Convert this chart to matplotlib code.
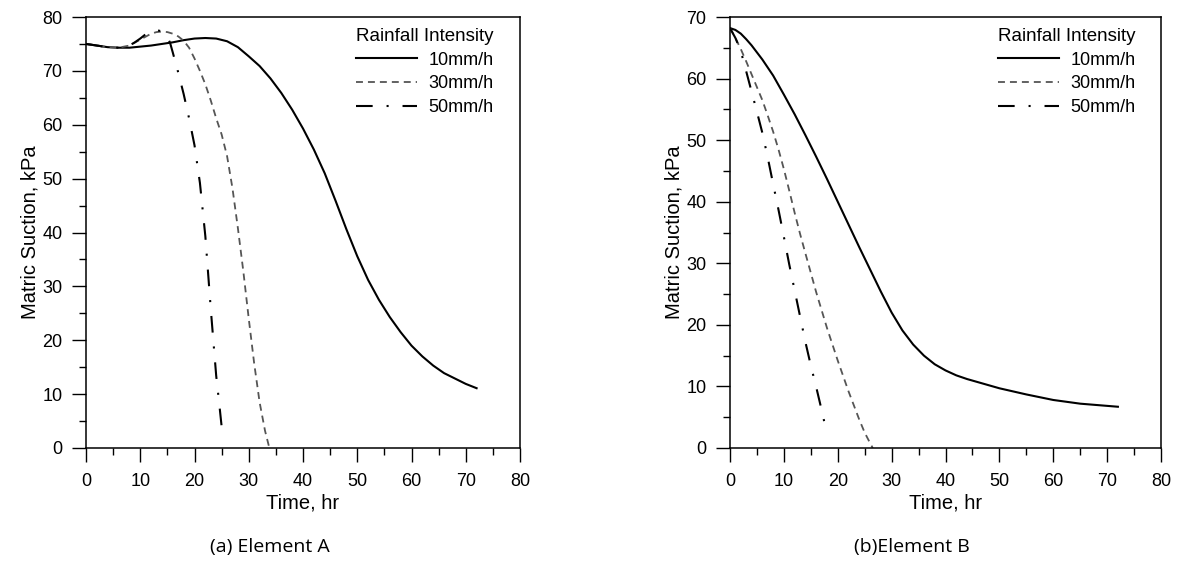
import numpy as np
import matplotlib
matplotlib.use("Agg")
from matplotlib import pyplot as plt
from matplotlib.ticker import MultipleLocator

plt.rcParams['font.family'] = ['Liberation Sans', 'DejaVu Sans']
plt.rcParams['lines.scale_dashes'] = False

# 单元A 数据 (时间 hr, 基质吸力 kPa)
a_t10 = [0, 2, 4, 6, 8, 10, 12, 14, 16, 18, 20, 22, 24, 26, 28, 30, 32, 34, 36, 38, 40, 42, 44, 46, 48, 50,
         52, 54, 56, 58, 60, 62, 64, 66, 68, 70, 72]
a_v10 = [75, 74.7, 74.4, 74.3, 74.3, 74.5, 74.7, 75, 75.3, 75.7, 76, 76.1, 76, 75.5, 74.4, 72.7, 70.9, 68.6,
         65.9, 62.8, 59.3, 55.4, 51, 45.9, 40.6, 35.6, 31.2, 27.5, 24.3, 21.5, 19, 17, 15.3, 13.9, 12.9, 11.9, 11.1]
a_t30 = [0, 2, 4, 6, 8, 10, 12, 13, 14, 15, 16, 17, 18, 19, 20, 21, 22, 23, 24, 25, 26, 27, 28, 29, 30,
         31, 32, 33, 33.8]
a_v30 = [75, 74.7, 74.4, 74.3, 74.7, 75.8, 76.9, 77.2, 77.3, 77.2, 76.9, 76.4, 75.6, 74.3, 72.3, 70, 67.5,
         64.5, 61.2, 58.2, 54.2, 48.2, 40.8, 32.8, 24, 15.7, 8.5, 3.2, 0]
a_t50 = [0, 2, 4, 6, 7, 8, 9, 10, 11, 12, 13, 14, 15, 15.5, 16, 17, 18, 19, 20, 21, 22, 23, 24, 24.5, 25]
a_v50 = [75, 74.7, 74.4, 74.3, 74.4, 74.7, 75.3, 76, 76.8, 77.3, 77.6, 77.3, 76.3, 75.2, 73.4, 69.7, 65.7,
         61.2, 56.2, 49.2, 39.3, 25.8, 13.4, 8.8, 4]

# 单元B 数据
b_t10 = [0, 1, 2, 3, 4, 6, 8, 10, 12, 14, 16, 18, 20, 22, 24, 26, 28, 30, 32, 34, 36, 38, 40, 42, 44, 46,
         50, 55, 60, 65, 72]
b_v10 = [68.2, 67.9, 67.3, 66.4, 65.4, 63.1, 60.5, 57.4, 54.2, 50.8, 47.3, 43.7, 40, 36.3, 32.6, 29, 25.4,
         22, 19.1, 16.8, 15, 13.6, 12.6, 11.8, 11.2, 10.7, 9.7, 8.7, 7.8, 7.2, 6.7]
b_t30 = [0, 1, 2, 3, 4, 6, 7, 8, 9, 10, 11, 12, 13, 14, 16, 18, 20, 22, 24, 25, 26, 26.5]
b_v30 = [68.2, 66.6, 64.8, 62.8, 60.7, 56.5, 54, 51.4, 48.5, 45.3, 41.8, 38.2, 34.8, 31.6, 25.3, 19.5, 14.2,
         9.2, 4.6, 2.5, 0.8, 0]
b_t50 = [0, 1, 2, 3, 4, 5, 6, 7, 8, 9, 10, 11, 12, 13, 14, 15, 16, 17, 18]
b_v50 = [68.2, 66.6, 64.5, 61.2, 57.9, 54.6, 51.2, 47.2, 42.9, 38.7, 34.3, 29.8, 25.6, 21.4, 17.2, 13.4, 9.9,
         6.2, 2.3]

labels = ['10mm/h', '30mm/h', '50mm/h']
styles = [dict(color='black', lw=1.5, ls='-'),
          dict(color='#555555', lw=1.3, ls=(0, (5, 3.6))),
          dict(color='black', lw=1.5, ls=(0, (12, 10, 1.5, 10)))]

fig = plt.figure(figsize=(11.8, 5.62), dpi=100)
ax1 = fig.add_axes([86/1180, 1-448/562, 434/1180, 431/562])
ax2 = fig.add_axes([730/1180, 1-448/562, 431/1180, 431/562])


def setup(ax, ymax):
    ax.set_xlim(0, 80)
    ax.set_ylim(0, ymax)
    ax.xaxis.set_major_locator(MultipleLocator(10))
    ax.xaxis.set_minor_locator(MultipleLocator(5))
    ax.yaxis.set_major_locator(MultipleLocator(10))
    ax.yaxis.set_minor_locator(MultipleLocator(5))
    ax.tick_params(which='major', direction='out', length=10, width=1, labelsize=13)
    ax.tick_params(which='minor', direction='out', length=5, width=1)
    ax.tick_params(axis='x', which='major', pad=8)
    ax.tick_params(axis='y', which='major', pad=7)
    for s in ax.spines.values():
        s.set_linewidth(1.1)
    ax.set_xlabel('Time, hr', fontsize=14.5, va='center')
    ax.xaxis.set_label_coords(0.5, (448-503)/431)
    ax.set_ylabel('Matric Suction, kPa', fontsize=14.5, va='center')
    ax.yaxis.set_label_coords((30-86)/434, 0.5)
    ax.legend(title='Rainfall Intensity', loc='upper left', bbox_to_anchor=(0.622, 0.975),
              frameon=False, fontsize=13, title_fontsize=13.5, handlelength=3.4,
              handletextpad=0.6, labelspacing=0.38, borderpad=0, borderaxespad=0,
              alignment='left')


for ax, data, ymax in [(ax1, [(a_t10, a_v10), (a_t30, a_v30), (a_t50, a_v50)], 80),
                       (ax2, [(b_t10, b_v10), (b_t30, b_v30), (b_t50, b_v50)], 70)]:
    for (t, v), lab, st in zip(data, labels, styles):
        ax.plot(t, v, label=lab, **st)
    setup(ax, ymax)

fig.text(270/1180, 1-547/562, '(a) Element A', ha='center', va='center', fontsize=14,
         family=['Open Sans', 'DejaVu Sans'])
fig.text(912/1180, 1-547/562, '(b)Element B', ha='center', va='center', fontsize=14,
         family=['Open Sans', 'DejaVu Sans'])

fig.savefig('out.png', dpi=100)
